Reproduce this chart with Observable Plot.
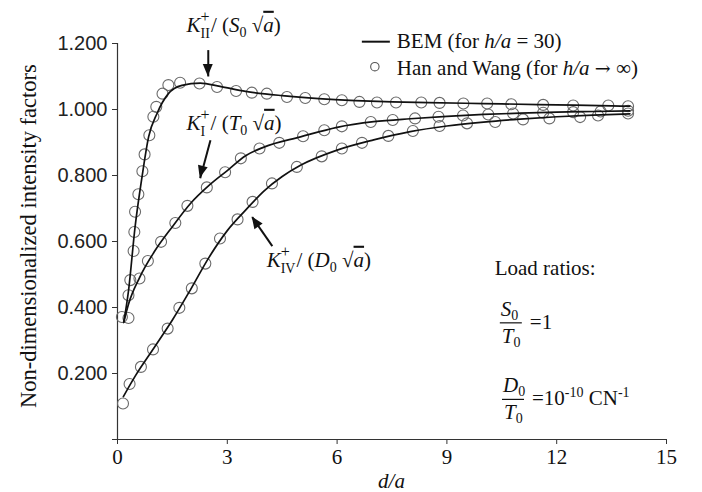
<!DOCTYPE html>
<html><head><meta charset="utf-8">
<script src="https://cdn.jsdelivr.net/npm/d3@7"></script>
<script src="https://cdn.jsdelivr.net/npm/@observablehq/plot@0.6"></script>
<style>body{margin:0;background:#fff}</style>
</head><body><div id="chart"></div>
<script>
// ---- tick labels ----
const xTicks = [0, 3, 6, 9, 12, 15];
const yTicks = [0, 0.2, 0.4, 0.6, 0.8, 1.0, 1.2];

// ---- BEM (h/a = 30) lines ----
const bemIIx = [0.17,0.3,0.48,0.67,0.85,1.08,1.39,1.76,2.26,2.8,3.5,4.5,5.5,6.5,7.5,8.5,9.5,10.5,11.5,12.5,13.5,14.0];
const bemIIy = [0.355,0.45,0.644,0.796,0.917,0.988,1.048,1.073,1.08,1.07,1.055,1.042,1.033,1.027,1.023,1.021,1.019,1.017,1.015,1.013,1.011,1.01];
const bemIx  = [0.17,0.3,0.6,1.0,1.5,2.0,2.5,3.0,3.5,4.0,5.0,6.0,7.0,8.0,9.0,10.0,11.0,12.0,13.0,14.0];
const bemIy  = [0.355,0.41,0.49,0.568,0.645,0.716,0.77,0.815,0.86,0.886,0.917,0.946,0.963,0.972,0.979,0.985,0.989,0.992,0.994,0.996];
const bemIVx = [0.16,0.5,1.0,1.5,2.0,2.5,3.0,3.5,4.0,4.5,5.0,6.0,7.0,8.0,9.0,10.0,11.0,12.0,13.0,14.0];
const bemIVy = [0.13,0.195,0.278,0.362,0.455,0.552,0.633,0.695,0.753,0.797,0.831,0.877,0.908,0.933,0.95,0.962,0.971,0.978,0.983,0.987];

// ---- Han and Wang (h/a -> infinity) circles ----
const hwIIx = [0.12,0.3,0.35,0.44,0.46,0.48,0.57,0.68,0.74,0.87,0.98,1.06,1.23,1.39,1.71,2.24,2.72,3.24,3.67,4.08,4.63,5.13,5.65,6.13,6.61,7.09,7.61,8.30,8.80,9.45,10.1,10.76,11.63,12.45,13.41,13.95];
const hwIIy = [0.371,0.437,0.483,0.571,0.629,0.69,0.743,0.813,0.864,0.922,0.978,1.008,1.048,1.074,1.081,1.079,1.068,1.056,1.051,1.048,1.038,1.035,1.031,1.028,1.023,1.021,1.021,1.021,1.02,1.018,1.018,1.016,1.014,1.012,1.012,1.01];
const hwIx  = [0.3,0.6,0.83,1.19,1.58,1.91,2.44,2.94,3.37,3.88,4.42,5.07,5.65,6.13,6.92,7.52,8.13,8.77,9.44,10.13,10.81,11.63,12.45,13.2,13.95];
const hwIy  = [0.368,0.488,0.541,0.599,0.656,0.708,0.764,0.81,0.852,0.882,0.899,0.919,0.937,0.949,0.962,0.968,0.973,0.978,0.982,0.985,0.988,0.99,0.992,0.994,0.996];
const hwIVx = [0.15,0.33,0.64,0.97,1.37,1.69,2.03,2.4,2.8,3.28,3.69,4.22,4.9,5.58,6.13,6.68,7.4,8.07,8.8,9.55,10.32,11.08,11.8,12.64,13.13,13.95];
const hwIVy = [0.109,0.168,0.22,0.273,0.336,0.399,0.458,0.533,0.609,0.667,0.72,0.776,0.826,0.858,0.882,0.899,0.92,0.935,0.95,0.958,0.962,0.97,0.973,0.977,0.982,0.988];

// ---- annotation arrows (data units) ----
const arrowX1 = [2.48, 2.54, 4.23];
const arrowY1 = [1.18, 0.907, 0.586];
const arrowX2 = [2.48, 2.26, 3.68];
const arrowY2 = [1.10, 0.792, 0.674];

const zip = (xs, ys, s) => xs.map((x, i) => ({x, y: ys[i], s}));
const bem = [...zip(bemIIx, bemIIy, "II"), ...zip(bemIx, bemIy, "I"), ...zip(bemIVx, bemIVy, "IV")];
const hw = [...zip(hwIIx, hwIIy, "II"), ...zip(hwIx, hwIy, "I"), ...zip(hwIVx, hwIVy, "IV")];
const arrows = arrowX1.map((x1, i) => ({x1, y1: arrowY1[i], x2: arrowX2[i], y2: arrowY2[i]}));

const SERIF = "'Liberation Serif', 'Times New Roman', serif";
const SANS = "'Liberation Sans', Arial, sans-serif";

const plot = Plot.plot({
  width: 702, height: 492,
  marginLeft: 117, marginRight: 36, marginTop: 43, marginBottom: 53,
  x: {domain: [0, 15]},
  y: {domain: [0, 1.2]},
  style: {fontFamily: SERIF, fontSize: "21px", color: "#111", background: "#fff", overflow: "visible"},
  marks: [
    Plot.axisX({ticks: xTicks, tickSize: 5, tickPadding: 5, fontSize: 21, fontFamily: SERIF, label: null, stroke: "#333", fill: "#111"}),
    Plot.axisY({ticks: yTicks, tickSize: 5, tickPadding: 5, fontSize: 20, fontFamily: SANS, label: null,
      tickFormat: d => d === 0 ? "" : d3.format(".3f")(d), stroke: "#333", fill: "#222"}),
    Plot.ruleX([0], {stroke: "#333", strokeWidth: 1.2}),
    Plot.ruleY([0], {stroke: "#333", strokeWidth: 1.2}),
    Plot.dot(hw, {x: "x", y: "y", r: 5.5, stroke: "#6a6a6a", strokeWidth: 1.1, fill: "none"}),
    Plot.line(bem, {x: "x", y: "y", z: "s", stroke: "#111", strokeWidth: 1.7, curve: "monotone-x"}),
    Plot.link(arrows, {x1: "x1", y1: "y1", x2: "x2", y2: "y2", stroke: "#111", strokeWidth: 2})
  ]
});
document.getElementById("chart").appendChild(plot);

const sx = plot.scale("x"), sy = plot.scale("y");
const px = v => sx.apply(v), py = v => sy.apply(v);
const g = d3.select(plot).append("g").attr("font-family", SERIF).attr("fill", "#111")
  .attr("font-size", 21).attr("text-anchor", "start");

// filled arrowheads at the arrow tips
arrows.forEach(a => {
  const X1 = px(a.x1), Y1 = py(a.y1), X2 = px(a.x2), Y2 = py(a.y2);
  const L = Math.hypot(X2 - X1, Y2 - Y1), ux = (X2 - X1) / L, uy = (Y2 - Y1) / L;
  const len = 12, hw2 = 5;
  const bx = X2 - ux * len, by = Y2 - uy * len;
  g.append("path")
    .attr("d", `M${X2},${Y2}L${bx - uy * hw2},${by + ux * hw2}L${bx + uy * hw2},${by - ux * hw2}Z`)
    .attr("fill", "#111").attr("stroke", "none");
});

// axis titles
g.append("text").attr("x", px(7.5)).attr("y", py(-0.148)).attr("text-anchor", "middle")
  .attr("font-style", "italic").text("d/a");
g.append("text").attr("transform", `translate(${px(-2.2)},${py(0.615)}) rotate(-90)`)
  .attr("text-anchor", "middle").attr("font-size", 22.5).text("Non-dimensionalized intensity factors");

// K labels
function kLabel(x, y, sub, subW, load) {
  const t = g.append("text").attr("x", px(x)).attr("y", py(y));
  t.append("tspan").attr("font-style", "italic").text("K");
  t.append("tspan").attr("font-size", 14).attr("dy", 6).text(sub);
  const plusW = 9;
  t.append("tspan").attr("font-size", 16).attr("dx", -subW).attr("dy", -16).text("+");
  t.append("tspan").attr("dy", 10).attr("dx", Math.max(0, subW - plusW) + 1).text("/ (");
  t.append("tspan").attr("font-style", "italic").text(load);
  t.append("tspan").attr("font-size", 14).attr("dy", 5).text("0");
  t.append("tspan").attr("dy", -5).text(" \u221A");
  t.append("tspan").attr("font-style", "italic").attr("text-decoration", "overline").text("a");
  t.append("tspan").text(")");
}
kLabel(1.90, 1.234, "II", 9.3, "S");
kLabel(1.90, 0.937, "I", 4.7, "T");
kLabel(4.09, 0.522, "IV", 14.8, "D");

// legend
const lx = 6.69, ly = 1.204;
g.append("line").attr("x1", px(lx)).attr("x2", px(lx) + 28).attr("y1", py(ly)).attr("y2", py(ly))
  .attr("stroke", "#111").attr("stroke-width", 2);
g.append("circle").attr("cx", px(lx) + 13).attr("cy", py(ly) + 25).attr("r", 4.2)
  .attr("fill", "none").attr("stroke", "#555").attr("stroke-width", 1.1);
const t1 = g.append("text").attr("x", px(lx) + 35).attr("y", py(ly) + 6);
t1.append("tspan").text("BEM (for ");
t1.append("tspan").attr("font-style", "italic").text("h/a");
t1.append("tspan").text(" = 30)");
const t2 = g.append("text").attr("x", px(lx) + 35).attr("y", py(ly) + 33);
t2.append("tspan").text("Han and Wang (for ");
t2.append("tspan").attr("font-style", "italic").text("h/a");
t2.append("tspan").text(" ");
t2.append("tspan").attr("font-family", "'DejaVu Serif', serif").attr("font-size", 19).text("\u2192");
t2.append("tspan").text(" \u221E)");

// load ratios
g.append("text").attr("x", px(10.32)).attr("y", py(0.498)).text("Load ratios:");
function frac(cx, barY, num, rhs, sup1, tail, sup2) {
  const X = px(cx), Y = py(barY);
  g.append("line").attr("x1", X - 11).attr("x2", X + 11).attr("y1", Y).attr("y2", Y)
    .attr("stroke", "#111").attr("stroke-width", 1.2);
  const n = g.append("text").attr("x", X - 10).attr("y", Y - 7);
  n.append("tspan").attr("font-style", "italic").text(num);
  n.append("tspan").attr("font-size", 14).attr("dy", 4).text("0");
  const d = g.append("text").attr("x", X - 9).attr("y", Y + 20);
  d.append("tspan").attr("font-style", "italic").text("T");
  d.append("tspan").attr("font-size", 14).attr("dy", 4).text("0");
  const r = g.append("text").attr("x", X + 19).attr("y", Y + 6);
  r.append("tspan").text(rhs);
  if (sup1) {
    r.append("tspan").attr("font-size", 14).attr("dy", -8).text(sup1);
    r.append("tspan").attr("dy", 8).text(tail);
    r.append("tspan").attr("font-size", 14).attr("dy", -8).text(sup2);
  }
}
frac(10.76, 0.352, "S", "=1");
frac(10.82, 0.12, "D", "=10", "-10", " CN", "-1");
</script>
</body></html>
